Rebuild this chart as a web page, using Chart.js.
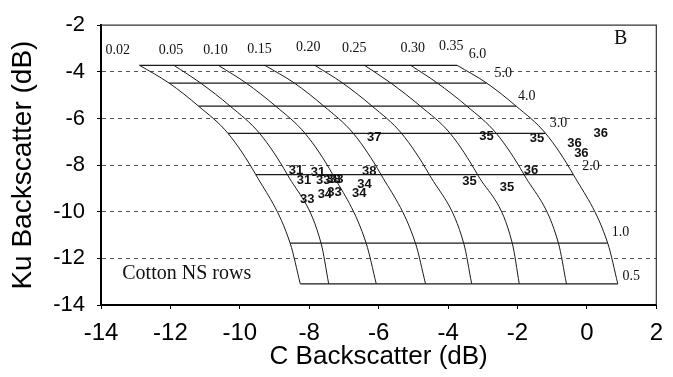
<!DOCTYPE html>
<html>
<head>
<meta charset="utf-8">
<script src="https://cdn.jsdelivr.net/npm/chart.js@4.4.0/dist/chart.umd.min.js"></script>
<style>
  body { margin: 0; background: #fff; }
</style>
</head>
<body>
<canvas id="grafico" width="673" height="377"></canvas>
<script>
// Niveles de LAI (lineas horizontales del modelo) y su valor Ku
const lai = ['6.0', '5.0', '4.0', '3.0', '2.0', '1.0', '0.5'];
const laiKu = [-3.72, -4.48, -5.47, -6.64, -8.41, -11.35, -13.09];

// Curvas de humedad del suelo: valor C en cada nivel de LAI
const humedad = ['0.02', '0.05', '0.10', '0.15', '0.20', '0.25', '0.30', '0.35'];
const gridC = [
  [-12.89, -12.04, -11.19, -10.34, -9.54, -8.55, -8.26],
  [-11.90, -11.13, -10.28, -9.43, -8.63, -7.66, -7.44],
  [-10.62, -9.82, -8.97, -8.12, -7.32, -6.36, -6.07],
  [-9.28, -8.43, -7.58, -6.73, -5.93, -4.94, -4.65],
  [-7.84, -7.04, -6.19, -5.34, -4.54, -3.55, -3.32],
  [-6.41, -5.65, -4.80, -3.94, -3.15, -2.15, -1.95],
  [-5.08, -4.31, -3.46, -2.61, -1.81, -0.82, -0.59],
  [-3.74, -2.89, -2.04, -1.19, -0.39, 0.60, 0.89]
];

// Posicion de las etiquetas de la grilla
const humLabelC = [-13.52, -11.98, -10.70, -9.43, -8.03, -6.70, -5.02, -3.91];
const humLabelKu = [-3.09, -3.09, -3.09, -3.05, -2.97, -3.01, -3.01, -2.92];
const laiLabelC = [-3.15, -2.41, -1.73, -0.82, 0.12, 0.97, 1.28];
const laiLabelKu = [-3.26, -4.06, -5.03, -6.20, -8.05, -10.87, -12.76];

// Mediciones de campo (numero de fecha)
const campoC = [-6.13, -8.38, -7.75, -6.27, -8.15, -7.60, -7.30, -7.22, -6.41, -8.06, -7.55, -7.27, -6.56,
  -2.89, -1.44, 0.40, -0.36, -0.16, -1.61, -3.38, -2.30];
const campoKu = [-6.83, -8.22, -8.30, -8.26, -8.64, -8.64, -8.62, -8.60, -8.85, -9.48, -9.27, -9.18, -9.23,
  -6.79, -6.87, -6.66, -7.08, -7.50, -8.22, -8.68, -8.97];
const campoTxt = ['37', '31', '31', '38', '31', '33', '38', '33', '34', '33', '34', '33', '34',
  '35', '35', '36', '36', '36', '36', '35', '35'];

Chart.defaults.font.family = '"Liberation Sans", Arial, sans-serif';
Chart.defaults.color = '#000';

const datasets = [];
humedad.forEach((h, i) => {
  datasets.push({
    data: laiKu.map((k, j) => ({ x: gridC[i][j], y: k })),
    showLine: true,
    borderColor: '#1a1a1a',
    borderWidth: 1,
    pointRadius: 0,
    cubicInterpolationMode: 'monotone'
  });
});
lai.forEach((l, j) => {
  datasets.push({
    data: gridC.map(fila => ({ x: fila[j], y: laiKu[j] })),
    showLine: true,
    borderColor: '#1a1a1a',
    borderWidth: 1.2,
    pointRadius: 0
  });
});
const idxCampo = datasets.length;
datasets.push({
  data: campoC.map((c, i) => ({ x: c, y: campoKu[i] })),
  showLine: false,
  pointRadius: 0
});

const textos = {
  id: 'textos',
  afterDatasetsDraw(chart) {
    const { ctx, scales: { x, y } } = chart;
    ctx.save();
    ctx.textAlign = 'center';
    ctx.textBaseline = 'middle';
    ctx.fillStyle = '#111';

    ctx.font = '14px "Liberation Serif"';
    humedad.forEach((h, i) => {
      ctx.fillText(h, x.getPixelForValue(humLabelC[i]), y.getPixelForValue(humLabelKu[i]));
    });
    lai.forEach((l, j) => {
      ctx.fillText(l, x.getPixelForValue(laiLabelC[j]), y.getPixelForValue(laiLabelKu[j]));
    });

    ctx.font = '20px "Liberation Serif"';
    ctx.fillText('B', x.getPixelForValue(0.97), y.getPixelForValue(-2.59));
    ctx.fillText('Cotton NS rows', x.getPixelForValue(-11.53), y.getPixelForValue(-12.67));

    ctx.font = 'bold 13px "Liberation Sans"';
    chart.getDatasetMeta(idxCampo).data.forEach((p, i) => {
      ctx.fillText(campoTxt[i], p.x, p.y);
    });

    // marco superior y derecho
    const a = chart.chartArea;
    ctx.strokeStyle = '#333';
    ctx.lineWidth = 1.2;
    ctx.beginPath();
    ctx.moveTo(a.left, a.top);
    ctx.lineTo(a.right, a.top);
    ctx.lineTo(a.right, a.bottom);
    ctx.stroke();
    ctx.restore();
  }
};

new Chart(document.getElementById('grafico'), {
  type: 'scatter',
  data: { datasets },
  options: {
    responsive: false,
    animation: false,
    layout: { padding: { top: 19, right: 9, left: 0, bottom: 0 } },
    plugins: { legend: { display: false }, tooltip: { enabled: false } },
    scales: {
      x: {
        min: -14, max: 2,
        afterFit: s => { s.height = 72; },
        ticks: { stepSize: 2, font: { size: 24 }, padding: 10, maxRotation: 0 },
        grid: { drawOnChartArea: false, color: '#000', tickLength: 4 },
        border: { color: '#000', width: 2 },
        title: { display: true, text: 'C Backscatter (dB)', font: { size: 26 }, padding: { top: 0, bottom: 5 } }
      },
      y: {
        min: -14, max: -2,
        afterFit: s => { s.width = 101; },
        ticks: { stepSize: 2, font: { size: 22 }, padding: 12 },
        grid: {
          color: c => (c.tick && (c.tick.value === -2 || c.tick.value === -14)) ? 'rgba(0,0,0,0)' : '#555',
          tickColor: '#000',
          tickLength: 4
        },
        border: { color: '#000', width: 2, dash: [4, 4] },
        title: { display: true, text: 'Ku Backscatter (dB)', font: { size: 28 }, padding: { top: 6, bottom: 0 } }
      }
    }
  },
  plugins: [textos]
});
</script>
</body>
</html>
